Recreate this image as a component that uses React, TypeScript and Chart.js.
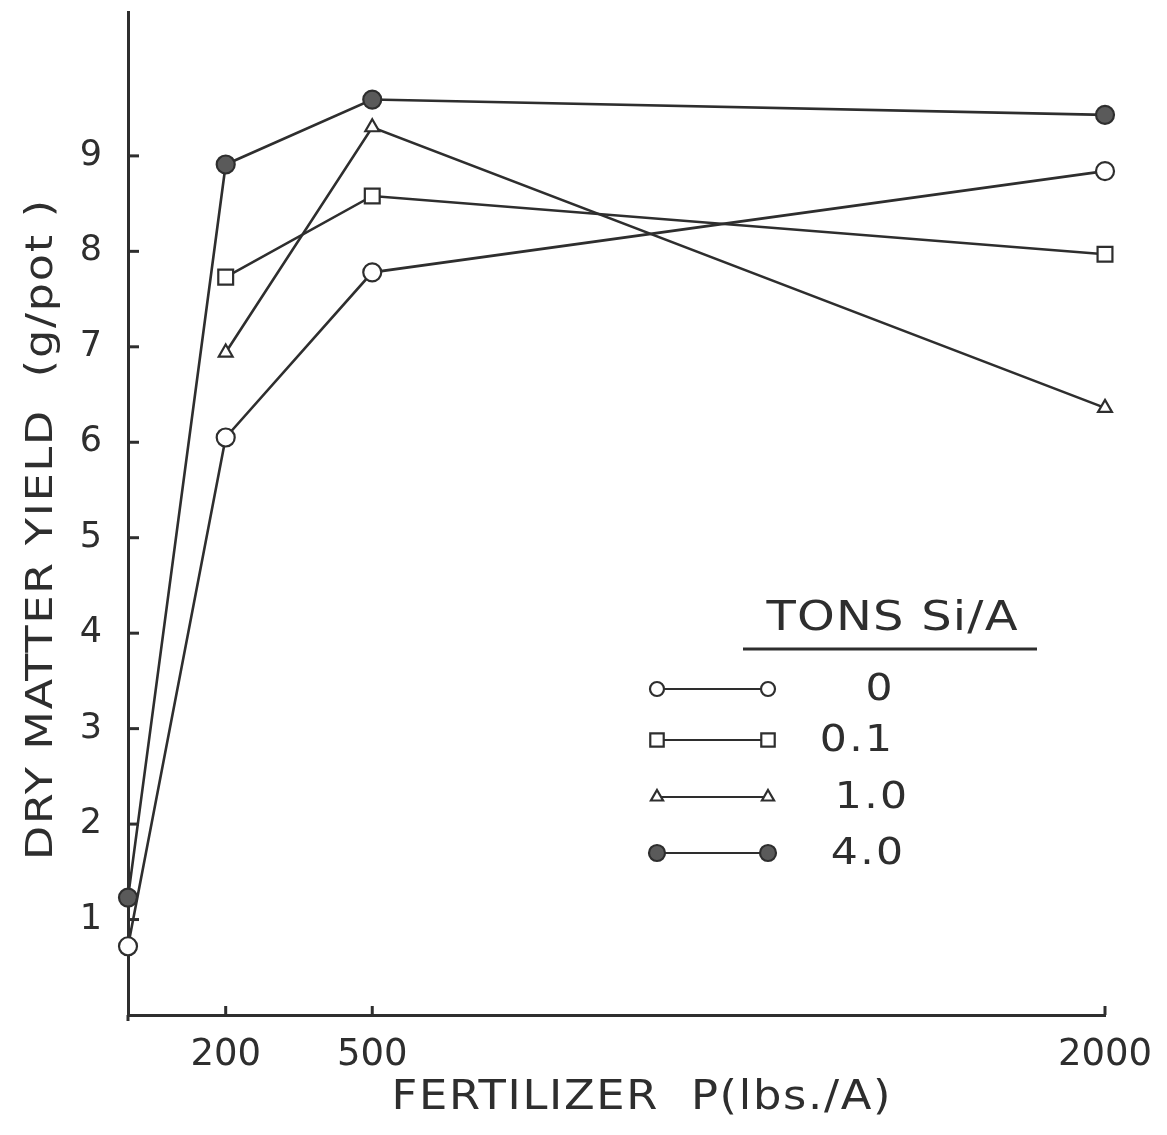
import React, { useEffect, useRef } from 'react';
import { Chart, registerables } from 'chart.js';

Chart.register(...registerables);

// ---- data ----
const fertilizerP = [0, 200, 500, 2000];
const xTickValues = [200, 500, 2000];
const yTickValues = [1, 2, 3, 4, 5, 6, 7, 8, 9];
const seriesLabels = ['0', '0.1', '1.0', '4.0'];
const si0 = [0.72, 6.05, 7.78, 8.84];
const si01 = [null, 7.73, 8.58, 7.97];
const si10 = [null, 6.94, 9.3, 6.36];
const si40 = [1.23, 8.91, 9.59, 9.43];
const xTitle = 'FERTILIZER  P(lbs./A)';
const yTitle = 'DRY MATTER YIELD  (g/pot )';
const legendTitle = 'TONS Si/A';

const INK = '#2e2e2e';
const FONT = '"DejaVu Sans", sans-serif';

type Marker = { style: 'circle' | 'rect' | 'triangle'; filled: boolean };
const markers: Marker[] = [
  { style: 'circle', filled: false },
  { style: 'rect', filled: false },
  { style: 'triangle', filled: false },
  { style: 'circle', filled: true },
];

function toPoints(ys: (number | null)[]) {
  const out: { x: number; y: number }[] = [];
  ys.forEach((y, i) => {
    if (y !== null) out.push({ x: fertilizerP[i], y });
  });
  return out;
}

function drawMarker(ctx: CanvasRenderingContext2D, m: Marker, x: number, y: number, r: number) {
  ctx.save();
  ctx.lineWidth = 2.2;
  ctx.strokeStyle = INK;
  ctx.fillStyle = m.filled ? '#5a5a5a' : '#ffffff';
  ctx.beginPath();
  if (m.style === 'circle') {
    ctx.arc(x, y, r, 0, Math.PI * 2);
  } else if (m.style === 'rect') {
    const s = r * Math.SQRT1_2;
    ctx.rect(x - s, y - s, 2 * s, 2 * s);
  } else {
    const a = (2 * Math.PI) / 3;
    ctx.moveTo(x, y - r);
    ctx.lineTo(x + Math.sin(a) * r, y - Math.cos(a) * r);
    ctx.lineTo(x + Math.sin(2 * a) * r, y - Math.cos(2 * a) * r);
    ctx.closePath();
  }
  ctx.fill();
  ctx.stroke();
  ctx.restore();
}

// text stretched along its writing direction (lettering in the original is wide)
function wideText(
  ctx: CanvasRenderingContext2D,
  text: string,
  x: number,
  y: number,
  size: number,
  stretch: number,
  spacing: number,
  angle = 0
) {
  ctx.save();
  ctx.translate(x, y);
  if (angle) ctx.rotate(angle);
  ctx.scale(stretch, 1);
  ctx.font = `${size}px ${FONT}`;
  (ctx as any).letterSpacing = `${spacing}px`;
  ctx.textAlign = 'center';
  ctx.textBaseline = 'middle';
  ctx.fillStyle = INK;
  ctx.fillText(text, spacing / 2, 0);
  ctx.restore();
}

const decorPlugin = {
  id: 'decor',
  afterDraw(chart: any) {
    const ctx: CanvasRenderingContext2D = chart.ctx;
    const { left, bottom } = chart.chartArea;
    const xs = chart.scales.x;
    const ys = chart.scales.y;
    ctx.save();
    // inward tick marks
    ctx.strokeStyle = INK;
    ctx.lineWidth = 3;
    yTickValues.forEach((v) => {
      const py = ys.getPixelForValue(v);
      ctx.beginPath();
      ctx.moveTo(left, py);
      ctx.lineTo(left + 11, py);
      ctx.stroke();
    });
    xTickValues.forEach((v) => {
      const px = xs.getPixelForValue(v);
      ctx.beginPath();
      ctx.moveTo(px, bottom);
      ctx.lineTo(px, bottom - 9);
      ctx.stroke();
    });
    // y axis runs a little below the x axis
    ctx.beginPath();
    ctx.moveTo(left, bottom);
    ctx.lineTo(left, bottom + 6);
    ctx.stroke();

    // axis titles
    wideText(ctx, xTitle, 641, 1099, 40, 1.12, 1.5);
    wideText(ctx, yTitle, 42, 530, 37, 1.2, 1.5, -Math.PI / 2);

    // legend
    wideText(ctx, legendTitle, 892, 620, 40, 1.2, 1);
    ctx.beginPath();
    ctx.lineWidth = 3;
    ctx.moveTo(743, 649);
    ctx.lineTo(1037, 649);
    ctx.stroke();
    const rowsY = [689, 740, 797, 853];
    const radii = [7, 9.5, 7, 8];
    const labelX = [879, 856, 871, 867];
    seriesLabels.forEach((lab, i) => {
      const y = rowsY[i];
      ctx.beginPath();
      ctx.lineWidth = 2;
      ctx.moveTo(657, y);
      ctx.lineTo(768, y);
      ctx.stroke();
      drawMarker(ctx, markers[i], 657, y, radii[i]);
      drawMarker(ctx, markers[i], 768, y, radii[i]);
      wideText(ctx, lab, labelX[i], y + 1, 37, 1.15, 2);
    });
    ctx.restore();
  },
};

export default function App() {
  const ref = useRef<HTMLCanvasElement | null>(null);
  useEffect(() => {
    if (!ref.current) return;
    const seriesData = [si0, si01, si10, si40];
    const radii = [9, 10.5, 8, 9];
    const chart = new Chart(ref.current, {
      type: 'line',
      data: {
        datasets: seriesData.map((s, i) => ({
          label: seriesLabels[i],
          data: toPoints(s),
          borderColor: INK,
          borderWidth: 2.6,
          pointStyle: markers[i].style,
          pointRadius: radii[i],
          pointBorderWidth: 2.2,
          pointBorderColor: INK,
          pointBackgroundColor: markers[i].filled ? '#5a5a5a' : '#ffffff',
          tension: 0,
          clip: false as any,
        })),
      },
      options: {
        responsive: false,
        animation: false,
        layout: { padding: { top: 10, right: 62, left: 0, bottom: 0 } },
        plugins: { legend: { display: false }, tooltip: { enabled: false } },
        scales: {
          x: {
            type: 'linear',
            min: 0,
            max: 2000,
            afterFit: (s: any) => {
              s.height = 120;
              s.paddingLeft = 0;
              s.paddingRight = 0;
            },
            afterBuildTicks: (s: any) => { s.ticks = xTickValues.map((v) => ({ value: v })); },
            grid: { display: false, drawTicks: false },
            border: { display: true, color: INK, width: 3 },
            ticks: {
              autoSkip: false,
              maxRotation: 0,
              padding: 18,
              color: INK,
              font: { family: FONT, size: 37 },
              callback: (v: any) => String(v),
            },
          },
          y: {
            type: 'linear',
            min: 0,
            max: 10.5,
            afterFit: (s: any) => {
              s.width = 128;
              s.paddingTop = 0;
              s.paddingBottom = 0;
            },
            afterBuildTicks: (s: any) => { s.ticks = yTickValues.map((v) => ({ value: v })); },
            grid: { display: false, drawTicks: false },
            border: { display: true, color: INK, width: 3 },
            ticks: {
              padding: 26,
              color: INK,
              font: { family: FONT, size: 35 },
              callback: (v: any) => String(v),
            },
          },
        },
      },
      plugins: [decorPlugin],
    });
    return () => chart.destroy();
  }, []);
  return (
    <div style={{ position: 'absolute', left: 0, top: 0, width: 1167, height: 1135, background: '#fff' }}>
      <canvas ref={ref} width={1167} height={1135} />
    </div>
  );
}
